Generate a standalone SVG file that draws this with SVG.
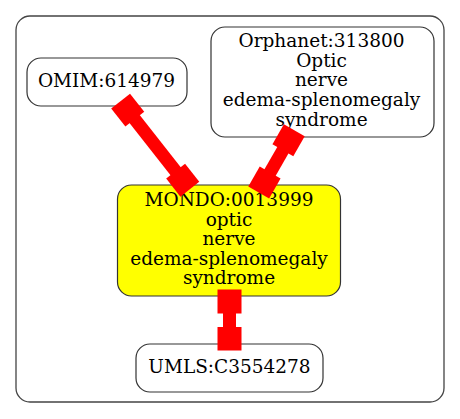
<svg xmlns="http://www.w3.org/2000/svg" width="460" height="419" viewBox="0 0 460 419">
<style>
.cl{fill:#fff;stroke:#444;stroke-width:1.3}
.nd{fill:#fff;stroke:#333;stroke-width:1.2}
.hl{fill:#ffff00}
text{font-family:"DejaVu Serif","Liberation Serif",serif;font-size:18.5px;fill:#000;text-anchor:middle}
.e rect{fill:#ff0000}
</style>
<rect width="460" height="419" fill="#fff"/>
<g id="cluster">
<rect class="cl" x="16" y="16" width="428" height="386" rx="14" ry="14"/>
</g>
<g id="omim">
<rect class="nd" x="27" y="58" width="160" height="48" rx="14" ry="14"/>
<text x="106.5" y="87">OMIM:614979</text>
</g>
<g id="orphanet">
<rect class="nd" x="211" y="27" width="223" height="110" rx="14" ry="14"/>
<text x="321.5" y="47">Orphanet:313800</text>
<text x="321.5" y="66.7">Optic</text>
<text x="321.5" y="86.4">nerve</text>
<text x="321.5" y="106.1">edema-splenomegaly</text>
<text x="321.5" y="125.8">syndrome</text>
</g>
<g id="mondo">
<rect class="nd hl" x="117.5" y="185" width="223" height="111" rx="14" ry="14"/>
<text x="229" y="206">MONDO:0013999</text>
<text x="229" y="225.6">optic</text>
<text x="229" y="245.2">nerve</text>
<text x="229" y="264.8">edema-splenomegaly</text>
<text x="229" y="284.4">syndrome</text>
</g>
<g id="umls">
<rect class="nd" x="136" y="344" width="187" height="48" rx="14" ry="14"/>
<text x="229.5" y="373">UMLS:C3554278</text>
</g>
<g id="edges" class="e">
<g transform="translate(120.6,101.1) rotate(51.86)">
<rect x="0" y="-12" width="23" height="24"/>
<rect x="22" y="-6.5" width="68.1" height="13"/>
<rect x="89.1" y="-12" width="23" height="24"/>
</g>
<g transform="translate(294.3,130.3) rotate(119.8)">
<rect x="0" y="-12" width="23" height="24"/>
<rect x="22" y="-6.5" width="27.6" height="13"/>
<rect x="48.6" y="-12" width="23" height="24"/>
</g>
<g transform="translate(229.5,289.5) rotate(90)">
<rect x="0" y="-12" width="24" height="24"/>
<rect x="23" y="-6.5" width="15" height="13"/>
<rect x="37.5" y="-12" width="23.5" height="24"/>
</g>
</g>
</svg>
